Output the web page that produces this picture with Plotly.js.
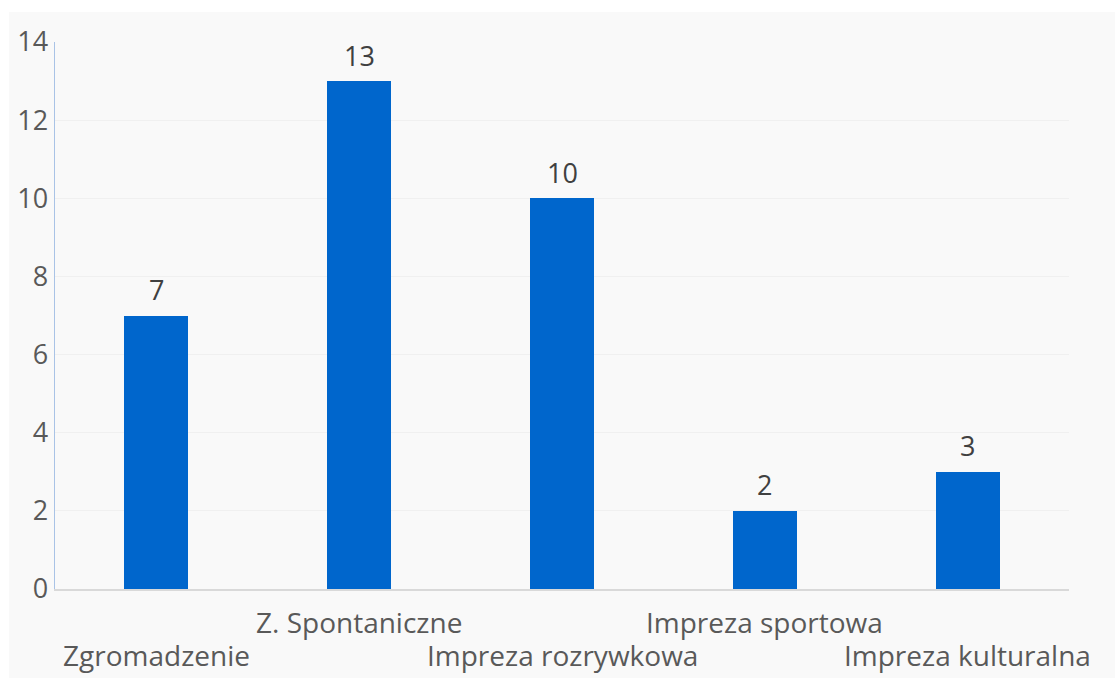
<!DOCTYPE html>
<html>
<head>
<meta charset="utf-8">
<script src="https://cdn.plot.ly/plotly-3.0.1.min.js"></script>
<style>html,body{margin:0;padding:0;background:#fff;}#chart{width:1115px;height:678px;}</style>
</head>
<body>
<div id="chart"></div>
<script>
const categories = ["Zgromadzenie", "Z. Spontaniczne", "Impreza rozrywkowa", "Impreza sportowa", "Impreza kulturalna"];
const values = [7, 13, 10, 2, 3];
const yTicks = [0, 2, 4, 6, 8, 10, 12, 14];

const font = "'Open Sans', 'Noto Sans', sans-serif";

const trace = {
  type: 'bar',
  x: categories,
  y: values,
  marker: {color: '#0066CC'},
  width: 0.315,
  hoverinfo: 'none'
};

const annotations = [];
categories.forEach((c, i) => {
  annotations.push({
    x: c, y: values[i], xref: 'x', yref: 'y',
    text: String(values[i]), showarrow: false,
    yanchor: 'middle', yshift: 26,
    font: {family: font, size: 27, color: '#404040'}
  });
  annotations.push({
    x: c, y: 0, xref: 'x', yref: 'paper',
    text: c, showarrow: false,
    yanchor: 'middle', yshift: (i % 2 === 1) ? -33 : -66,
    font: {family: font, size: 28, color: '#595959'}
  });
});

const layout = {
  width: 1115, height: 678,
  margin: {l: 55, r: 46, t: 42, b: 89},
  paper_bgcolor: '#ffffff',
  plot_bgcolor: 'rgba(0,0,0,0)',
  showlegend: false,
  bargap: 0,
  xaxis: {
    type: 'category',
    range: [-0.5, categories.length - 0.5],
    autorange: false,
    showticklabels: false,
    showgrid: false,
    zeroline: false,
    showline: true, linecolor: '#D9D9D9', linewidth: 1.5,
    ticks: ''
  },
  yaxis: {
    range: [0, 14],
    autorange: false,
    tickvals: yTicks,
    ticktext: yTicks.map(String),
    showgrid: true, gridcolor: '#F0F0F0', gridwidth: 1,
    zeroline: false,
    showline: true, linecolor: '#A9C3E6', linewidth: 1.5,
    ticks: '', ticklabelstandoff: 0,
    automargin: false,
    tickfont: {family: font, size: 27, color: '#595959'}
  },
  shapes: [{
    type: 'rect', xref: 'paper', yref: 'paper', layer: 'below',
    x0: (9 - 55) / 1014, x1: (1115 - 55) / 1014,
    y0: (589 - 678) / 547, y1: (589 - 12) / 547,
    fillcolor: '#F9F9F9', line: {width: 0}
  }],
  annotations: annotations
};

Plotly.newPlot('chart', [trace], layout, {displayModeBar: false, staticPlot: true});
</script>
</body>
</html>
